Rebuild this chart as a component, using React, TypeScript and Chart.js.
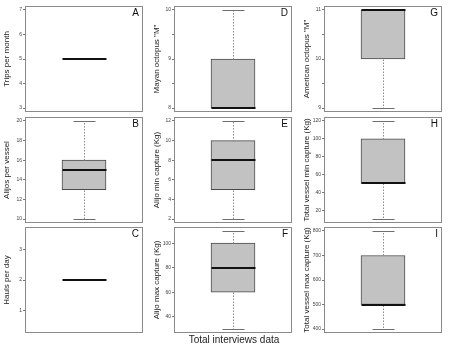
import { useEffect, useRef } from "react";
import { Chart, registerables } from "chart.js";

Chart.register(...registerables);
Chart.defaults.font.family = "'Liberation Sans', Arial, sans-serif";

// Panels in reading order down each column: A,B,C | D,E,F | G,H,I
const panelLetters = ["A", "B", "C", "D", "E", "F", "G", "H", "I"];
const axisTitles = [
  "Trips per month",
  "Alijos per vessel",
  "Hauls per day",
  'Mayan octopus "M"',
  "Alijo min capture (Kg)",
  "Alijo max capture (Kg)",
  'American octopus "M"',
  "Total vessel min capture (Kg)",
  "Total vessel max capture (Kg)",
];
const groupLabel = "Total interviews data";

// Five-number summaries
const whiskerLow = [5, 10, 2, 8, 2, 30, 9, 10, 400];
const boxLow = [5, 13, 2, 8, 5, 60, 10, 50, 500];
const medians = [5, 15, 2, 8, 8, 80, 11, 50, 500];
const boxHigh = [5, 16, 2, 9, 10, 100, 11, 100, 700];
const whiskerHigh = [5, 20, 2, 10, 12, 110, 11, 120, 800];

// Y ranges and tick marks
const axisMin = [2.84, 9.6, 0.26, 7.92, 1.6, 26.8, 8.92, 5.6, 384];
const axisMax = [7.16, 20.4, 3.74, 10.08, 12.4, 113.2, 11.08, 124.4, 816];
const tickValues = [
  [3, 4, 5, 6, 7],
  [10, 12, 14, 16, 18, 20],
  [1, 2, 3],
  [8, 8.5, 9, 9.5, 10],
  [2, 4, 6, 8, 10, 12],
  [40, 60, 80, 100],
  [9, 9.5, 10, 10.5, 11],
  [20, 40, 60, 80, 100, 120],
  [400, 500, 600, 700, 800],
];

const COL_LEFT = [0, 150, 300];
const AXIS_W = [25, 24, 24];
const RIGHT_PAD = [7, 8, 8];
const ROW_TOP = [1, 112, 222];
const CANVAS_W = 150;
const CANVAS_H = 116;

const BOX_FILL = "#c2c2c2";
const BOX_EDGE = "#4a4a4a";

const boxPlugin = {
  id: "boxExtras",
  afterDatasetsDraw(chart: any, _args: any, opts: any) {
    const i = opts.index as number;
    const { ctx, chartArea } = chart;
    const y = chart.scales.y;
    const bar = chart.getDatasetMeta(0).data[0] as any;
    const cx = Math.round(bar.x) + 0.5;
    const half = bar.width / 2;
    const py = (v: number) => Math.round(y.getPixelForValue(v)) + 0.5;
    const line = (x1: number, y1: number, x2: number, y2: number) => {
      ctx.beginPath();
      ctx.moveTo(x1, y1);
      ctx.lineTo(x2, y2);
      ctx.stroke();
    };

    ctx.save();
    // whiskers
    ctx.strokeStyle = "#8c8c8c";
    ctx.lineWidth = 1;
    ctx.setLineDash([1.5, 1.5]);
    if (whiskerHigh[i] > boxHigh[i]) line(cx, py(boxHigh[i]), cx, py(whiskerHigh[i]));
    if (whiskerLow[i] < boxLow[i]) line(cx, py(boxLow[i]), cx, py(whiskerLow[i]));
    ctx.setLineDash([]);
    ctx.strokeStyle = "#6e6e6e";
    if (whiskerHigh[i] > boxHigh[i]) line(cx - half / 2, py(whiskerHigh[i]), cx + half / 2, py(whiskerHigh[i]));
    if (whiskerLow[i] < boxLow[i]) line(cx - half / 2, py(whiskerLow[i]), cx + half / 2, py(whiskerLow[i]));

    // median
    ctx.strokeStyle = "#111111";
    ctx.lineWidth = 2;
    const my = Math.round(y.getPixelForValue(medians[i]));
    line(cx - half, my, cx + half, my);

    // panel frame
    ctx.strokeStyle = "#8a8a8a";
    ctx.lineWidth = 1;
    ctx.strokeRect(
      Math.round(chartArea.left) + 0.5,
      Math.round(chartArea.top) + 0.5,
      Math.round(chartArea.right - chartArea.left) - 1,
      Math.round(chartArea.bottom - chartArea.top) - 1
    );

    // panel letter
    ctx.fillStyle = "#111111";
    ctx.font = "10px 'Liberation Sans', Arial, sans-serif";
    ctx.textAlign = "right";
    ctx.textBaseline = "middle";
    ctx.fillText(panelLetters[i], chartArea.right - 4, chartArea.top + 7);
    ctx.restore();
  },
};

function BoxPanel({ index }: { index: number }) {
  const ref = useRef<HTMLCanvasElement>(null);
  const col = Math.floor(index / 3);
  const row = index % 3;

  useEffect(() => {
    const chart = new Chart(ref.current as HTMLCanvasElement, {
      type: "bar",
      data: {
        labels: [groupLabel],
        datasets: [
          {
            data: [[boxLow[index], boxHigh[index]]] as any,
            backgroundColor: BOX_FILL,
            borderColor: BOX_EDGE,
            borderWidth: 1,
            borderSkipped: false,
            barThickness: 44,
          },
        ],
      },
      options: {
        responsive: false,
        animation: false,
        devicePixelRatio: 1,
        layout: { padding: { top: 5, bottom: 5, left: 0, right: RIGHT_PAD[col] } },
        plugins: {
          legend: { display: false },
          tooltip: { enabled: false },
          boxExtras: { index },
        } as any,
        scales: {
          x: { display: false },
          y: {
            min: axisMin[index],
            max: axisMax[index],
            afterFit: (s: any) => {
              s.width = AXIS_W[col];
            },
            afterBuildTicks: (s: any) => {
              s.ticks = tickValues[index].map((v) => ({ value: v }));
            },
            ticks: {
              autoSkip: false,
              color: "#444444",
              font: { size: 5 },
              padding: 1,
              callback: (v: any) => (Number.isInteger(Number(v)) ? String(v) : ""),
            },
            grid: {
              drawOnChartArea: false,
              drawTicks: true,
              tickLength: 2,
              color: "#777777",
            },
            border: { display: false },
            title: {
              display: true,
              text: axisTitles[index],
              color: "#222222",
              font: { size: 8 },
              padding: { top: 2, bottom: 0 },
            },
          },
        },
      },
      plugins: [boxPlugin],
    });
    return () => chart.destroy();
  }, [index, col]);

  return (
    <canvas
      ref={ref}
      width={CANVAS_W}
      height={CANVAS_H}
      style={{ position: "absolute", left: COL_LEFT[col], top: ROW_TOP[row], width: CANVAS_W, height: CANVAS_H }}
    />
  );
}

export default function App() {
  return (
    <div style={{ position: "fixed", left: 0, top: 0, width: 450, height: 348, background: "#ffffff", overflow: "hidden" }}>
      {panelLetters.map((_, i) => (
        <BoxPanel key={i} index={i} />
      ))}
      <div
        style={{
          position: "absolute",
          left: 134,
          top: 334,
          width: 200,
          textAlign: "center",
          fontFamily: "'Liberation Sans', Arial, sans-serif",
          fontSize: 10,
          lineHeight: "12px",
          color: "#222222",
        }}
      >
        {groupLabel}
      </div>
    </div>
  );
}
